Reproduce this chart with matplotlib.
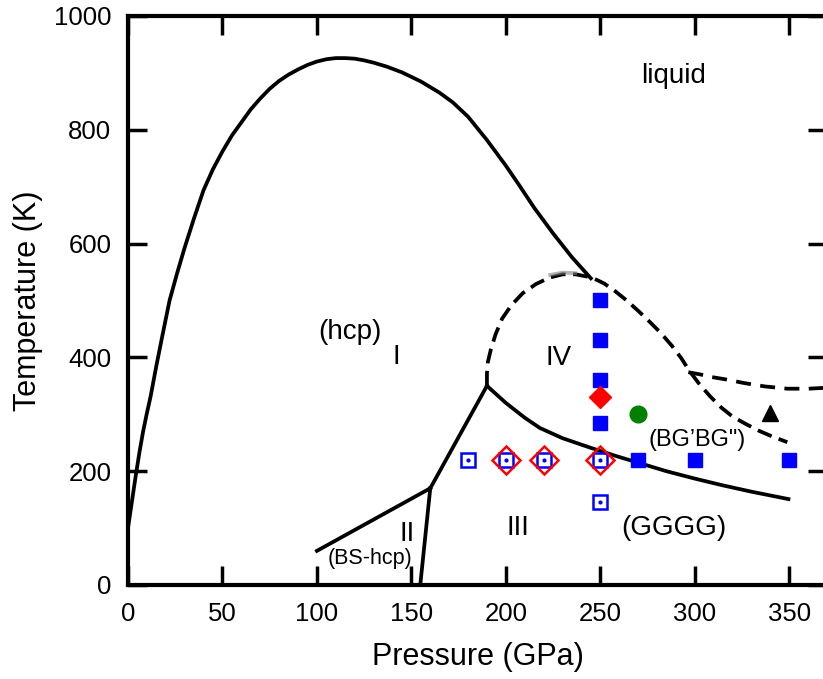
import numpy as np
import matplotlib
matplotlib.use("Agg")
import matplotlib.pyplot as plt

plt.rcParams['font.family'] = ['Liberation Sans', 'DejaVu Sans']

# melting curve (solid)
melt_p = [0, 2, 4, 6, 8, 10, 12, 15, 18, 22, 26, 30, 35, 40, 45, 50, 55, 60, 65, 70,
          75, 80, 85, 90, 95, 100, 105, 110, 115, 120, 125, 130, 137, 145, 155, 165,
          172, 180, 190, 200, 207, 215, 225, 235, 245]
melt_t = [100, 145, 190, 232, 270, 302, 332, 385, 435, 500, 548, 593, 645, 694, 731,
          762, 790, 813, 836, 855, 872, 886, 897, 906, 914, 920, 924, 926, 926, 925,
          922, 918, 911, 901, 885, 865, 848, 823, 782, 737, 703, 663, 618, 576, 539]

# dashed boundary of phase IV (dome and its lower branch)
dome_p = [190, 190, 190.5, 192, 194.5, 198, 203, 209, 216, 223, 230, 237, 243, 247,
          252, 258, 264, 270, 276, 282, 288, 293, 297, 302, 308, 314, 320, 327, 334,
          341, 349]
dome_t = [350, 372, 392, 413, 440, 468, 492, 513, 529, 540, 546, 546, 542, 538,
          530, 516, 500, 482, 463, 443, 420, 398, 377, 355, 332, 312, 296, 283, 271,
          261, 251]

# dashed upper branch
upper_p = [296.6, 303, 308, 317, 326, 337, 349, 360, 372]
upper_t = [374, 370, 366, 361, 355, 349, 345, 345, 347]

# solid phase boundaries
b_I_II_p = [100, 160]
b_I_II_t = [60, 170]
b_II_III_p = [160, 154.7]
b_II_III_t = [170, 0]
b_I_III_p = [160, 190]
b_I_III_t = [170, 350]
b_III_IV_p = [190, 200, 210, 218, 230, 245, 258, 271, 285, 300, 315, 330, 349.6]
b_III_IV_t = [350, 320, 294, 276, 258, 241, 227, 214, 200, 187, 175, 164, 151]

# markers
fsq_p = [250, 250, 250, 250, 270, 300, 350]
fsq_t = [500, 430, 360, 285, 220, 220, 220]
osq_p = [180, 200, 220, 250, 250]
osq_t = [220, 220, 220, 220, 145]
odia_p = [200, 220, 250]
odia_t = [220, 220, 220]
fdia_p = [250]
fdia_t = [330]
circ_p = [270]
circ_t = [300]
tri_p = [340]
tri_t = [302]

labels = [("liquid", 289, 895, 20), ("(hcp)", 117.6, 445, 20), ("I", 142, 401, 20),
          ("IV", 227.8, 399, 20), ("II", 147.8, 90, 20), ("(BS-hcp)", 128, 47, 15.5),
          ("III", 206.6, 100, 20), ("(GGGG)", 289, 100, 20), ("(BG’BG\")", 301, 255, 17)]

fig = plt.figure(figsize=(8.23, 6.79), dpi=100)
ax = fig.add_axes([128/823, 94/679, (827-128)/823, 569/679])

lw = 2.7
ax.plot(melt_p, melt_t, color='black', lw=lw)
ax.plot(dome_p, dome_t, color='black', lw=lw, linestyle=(0, (4, 2)))
ax.plot(upper_p, upper_t, color='black', lw=lw, linestyle=(0, (4, 2.5)))
ax.plot([223.5, 230, 236.8], [545, 549, 548], color='gray', lw=lw, alpha=0.6)
for bp, bt in [(b_I_II_p, b_I_II_t), (b_II_III_p, b_II_III_t),
               (b_I_III_p, b_I_III_t), (b_III_IV_p, b_III_IV_t)]:
    ax.plot(bp, bt, color='black', lw=lw)

ax.plot(fsq_p, fsq_t, 's', color='blue', ms=10, ls='none')
ax.plot(osq_p, osq_t, 's', mfc='none', mec='blue', mew=1.8, ms=10, ls='none')
ax.plot(osq_p, osq_t, 'o', color='blue', ms=2, ls='none')
ax.plot(odia_p, odia_t, 'D', mfc='none', mec='red', mew=1.8, ms=14, ls='none')
ax.plot(fdia_p, fdia_t, 'D', color='red', ms=11, ls='none')
ax.plot(circ_p, circ_t, 'o', color='green', ms=12, ls='none')
ax.plot(tri_p, tri_t, '^', color='black', ms=11, ls='none')

for txt, x, y, fs in labels:
    ax.text(x, y, txt, fontsize=fs, ha='center', va='center')

ax.set_xlim(0, 370)
ax.set_ylim(0, 1000)
ax.set_xticks(np.arange(0, 351, 50))
ax.set_yticks(np.arange(0, 1001, 200))
ax.tick_params(direction='in', length=14, width=2.5, top=True, right=True,
               labelsize=18.5)
ax.tick_params(axis='x', pad=12)
ax.tick_params(axis='y', pad=12)
for s in ax.spines.values():
    s.set_linewidth(3)
ax.set_xlabel('Pressure (GPa)', fontsize=22, labelpad=12)
ax.set_ylabel('Temperature (K)', fontsize=22, labelpad=8)

fig.savefig('out.png', dpi=100)
